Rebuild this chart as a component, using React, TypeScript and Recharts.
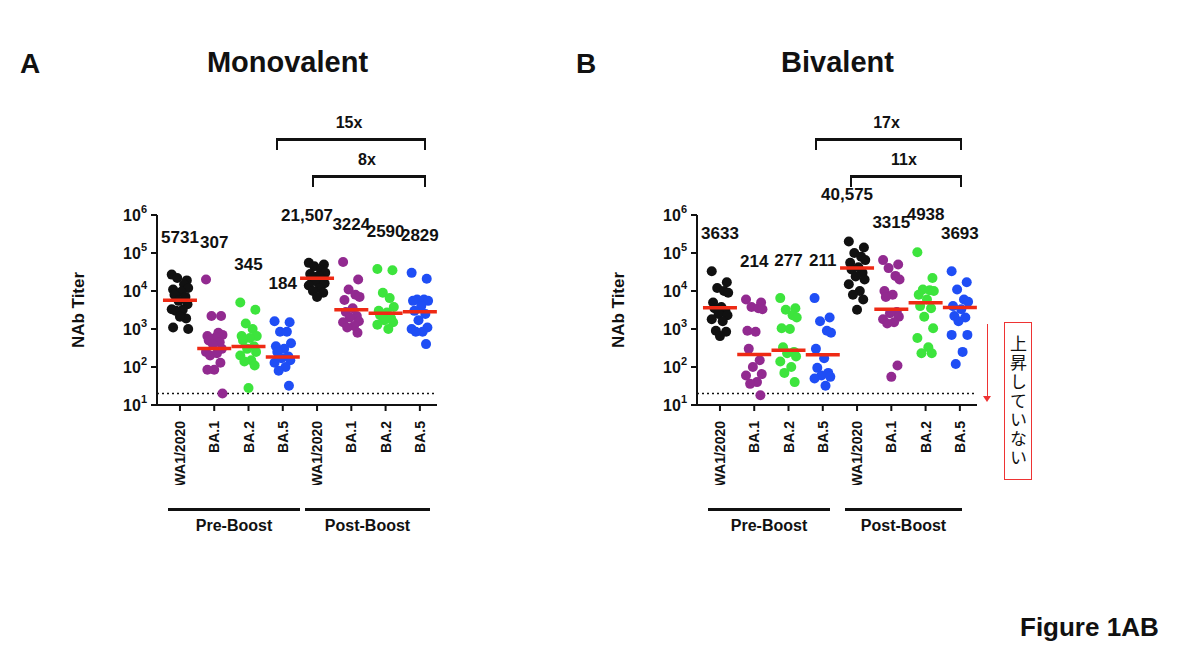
import { ScatterChart, Scatter, XAxis, YAxis, ReferenceLine } from "recharts"

const categories = ["WA1/2020", "BA.1", "BA.2", "BA.5", "WA1/2020", "BA.1", "BA.2", "BA.5"]
const colors = ["#111111", "#922a90", "#3de43d", "#1f4ef5", "#111111", "#922a90", "#3de43d", "#1f4ef5"]
const yTicks = [10, 100, 1000, 10000, 100000, 1000000]

const monoGmt = [5731, 307, 345, 184, 21507, 3224, 2590, 2829]
const monoGmtLabels = ["5731", "307", "345", "184", "21,507", "3224", "2590", "2829"]
const monoValues = [
  [27000, 19000, 22000, 15000, 12000, 11000, 9500, 8000, 7000, 5500, 4500, 3300, 3200, 3000, 1900, 2100, 1100, 1000],
  [20000, 2200, 2200, 800, 700, 650, 600, 500, 450, 400, 300, 250, 230, 200, 130, 85, 85, 20],
  [5000, 3200, 1400, 1000, 650, 650, 580, 500, 350, 300, 250, 200, 150, 140, 110, 28],
  [1600, 1500, 850, 850, 420, 350, 300, 250, 190, 170, 150, 130, 100, 80, 32],
  [55000, 50000, 45000, 35000, 30000, 28000, 25000, 22000, 20000, 18000, 16000, 14000, 12000, 10000, 9000, 7000],
  [58000, 20000, 11000, 8000, 7000, 5800, 3500, 2800, 2200, 2000, 1600, 1500, 1200, 1100, 800],
  [38000, 35000, 9000, 6500, 3800, 3000, 2700, 2300, 1900, 1700, 1500, 1300, 1000],
  [30000, 21000, 6000, 6000, 5500, 5500, 4000, 3000, 2500, 1700, 1100, 1000, 850, 850, 400],
]

const biGmt = [3633, 214, 277, 211, 40575, 3315, 4938, 3693]
const biGmtLabels = ["3633", "214", "277", "211", "40,575", "3315", "4938", "3693"]
const biValues = [
  [33000, 17000, 12000, 10000, 9000, 5000, 3800, 3500, 3000, 2500, 2300, 1800, 1600, 900, 850, 650],
  [6000, 5000, 3800, 3500, 3300, 900, 850, 300, 150, 100, 65, 60, 40, 36, 18],
  [6500, 3500, 3200, 2300, 2000, 1050, 1000, 330, 250, 230, 190, 140, 100, 70, 40],
  [6500, 2000, 1600, 900, 800, 300, 170, 95, 70, 60, 55, 50, 32],
  [200000, 140000, 100000, 80000, 65000, 55000, 42000, 37000, 30000, 24000, 20000, 15000, 10000, 8000, 6000, 3200],
  [65000, 50000, 40000, 25000, 20000, 10000, 8000, 7000, 2800, 2600, 2100, 1800, 1500, 1400, 110, 55],
  [105000, 22000, 11000, 10500, 10000, 8000, 6000, 4000, 3500, 2100, 1050, 580, 330, 230, 230],
  [33000, 17000, 11000, 6000, 5200, 4000, 3300, 2200, 2000, 1600, 700, 700, 250, 120],
]

const jitter = [-0.24, 0.2, -0.08, 0.12, 0.24, -0.2, 0.04, -0.16, 0.16, -0.04, 0.22, -0.24, 0.08, -0.12, 0.18, 0, -0.2, 0.24]

const FONT = "'Liberation Sans', Arial, sans-serif"

const Dot = (props: any) => <circle cx={props.cx} cy={props.cy} r={5} fill={props.payload.color} />
const Gmt = (props: any) => (
  <line x1={props.cx - 17} x2={props.cx + 17} y1={props.cy} y2={props.cy} stroke="#ee2a14" strokeWidth={3.5} />
)
// label sits a fixed distance above the highest dot of its group; long labels nudged up-left
const Lbl = (props: any) => {
  const long = props.payload.label.length > 5
  return (
    <text x={props.cx - (long ? 10 : 0)} y={props.cy - (long ? 42 : 32)} textAnchor="middle" fontSize={17} fontWeight="bold" fill="#111">
      {props.payload.label}
    </text>
  )
}
const XTick = (props: any) => (
  <text x={props.x} y={props.y + 8} transform={`rotate(-90 ${props.x} ${props.y + 8})`} textAnchor="end"
    dominantBaseline="central" fontSize={14} fontWeight="bold" fill="#111">
    {categories[props.payload.value]}
  </text>
)
const YTick = (props: any) => {
  const exp = Math.round(Math.log10(props.payload.value))
  return (
    <text x={props.x - 2} y={props.y + 6} textAnchor="end" fontSize={16} fontWeight="bold" fill="#111">
      10<tspan dy={-8} fontSize={11}>{exp}</tspan>
    </text>
  )
}

function Panel({ values, gmt, labels, left }: { values: number[][]; gmt: number[]; labels: string[]; left: number }) {
  const dots = values.flatMap((g, i) => g.map((v, j) => ({ x: i + jitter[j % jitter.length], y: v, color: colors[i] })))
  const lines = gmt.map((v, i) => ({ x: i, y: v }))
  const lbls = values.map((g, i) => ({ x: i, y: Math.max(...g), label: labels[i] }))
  return (
    <div style={{ position: "absolute", left, top: 125 }}>
      <ScatterChart width={382} height={360} margin={{ top: 90, right: 5, left: 40, bottom: 0 }} style={{ fontFamily: FONT, overflow: "visible" }}>
        <XAxis type="number" dataKey="x" domain={[-0.67, 7.5]} ticks={[0, 1, 2, 3, 4, 5, 6, 7]} tick={<XTick />}
          height={80} axisLine={{ stroke: "#111", strokeWidth: 2 }} tickLine={{ stroke: "#111", strokeWidth: 2 }} />
        <YAxis type="number" dataKey="y" scale="log" domain={[10, 1000000]} ticks={yTicks} tick={<YTick />}
          width={57} axisLine={{ stroke: "#111", strokeWidth: 2 }} tickLine={{ stroke: "#111", strokeWidth: 2 }}
          label={{ value: "NAb Titer", angle: -90, position: "insideLeft", offset: -22, style: { fontSize: 17, fontWeight: "bold", fill: "#111", textAnchor: "middle" } }} />
        <ReferenceLine y={20} stroke="#111" strokeDasharray="2 3" strokeWidth={1.5} />
        <Scatter data={dots} shape={<Dot />} isAnimationActive={false} />
        <Scatter data={lines} shape={<Gmt />} isAnimationActive={false} />
        <Scatter data={lbls} shape={<Lbl />} isAnimationActive={false} />
      </ScatterChart>
    </div>
  )
}

const abs = (s: React.CSSProperties): React.CSSProperties => ({ position: "absolute", ...s })

function Bracket({ x1, x2, y, text }: { x1: number; x2: number; y: number; text: string }) {
  return (
    <>
      <div style={abs({ left: x1, top: y, width: x2 - x1, height: 9, borderTop: "3px solid #111", borderLeft: "2px solid #111", borderRight: "2px solid #111" })} />
      <div style={abs({ left: x1, top: y - 24, width: x2 - x1, textAlign: "center", fontSize: 16, fontWeight: "bold" })}>{text}</div>
    </>
  )
}
function Group({ x1, x2, text }: { x1: number; x2: number; text: string }) {
  return (
    <>
      <div style={abs({ left: x1, top: 508, width: x2 - x1, borderTop: "3px solid #111" })} />
      <div style={abs({ left: x1, top: 517, width: x2 - x1, textAlign: "center", fontSize: 16, fontWeight: "bold" })}>{text}</div>
    </>
  )
}

export default function App() {
  return (
    <div style={{ position: "fixed", left: 0, top: 0, width: 1200, height: 656, background: "#fff", fontFamily: FONT, color: "#111" }}>
      <div style={abs({ left: 20, top: 48, fontSize: 28, fontWeight: "bold" })}>A</div>
      <div style={abs({ left: 150, top: 46, width: 275, textAlign: "center", fontSize: 29, fontWeight: "bold" })}>Monovalent</div>
      <div style={abs({ left: 576, top: 48, fontSize: 28, fontWeight: "bold" })}>B</div>
      <div style={abs({ left: 700, top: 46, width: 275, textAlign: "center", fontSize: 29, fontWeight: "bold" })}>Bivalent</div>
      <Panel values={monoValues} gmt={monoGmt} labels={monoGmtLabels} left={60} />
      <Panel values={biValues} gmt={biGmt} labels={biGmtLabels} left={600} />
      <Bracket x1={276} x2={422} y={138} text="15x" />
      <Bracket x1={312} x2={422} y={175} text="8x" />
      <Bracket x1={815} x2={958} y={138} text="17x" />
      <Bracket x1={850} x2={958} y={175} text="11x" />
      <Group x1={168} x2={300} text="Pre-Boost" />
      <Group x1={305} x2={430} text="Post-Boost" />
      <Group x1={708} x2={830} text="Pre-Boost" />
      <Group x1={845} x2={962} text="Post-Boost" />
      <div style={abs({ left: 987, top: 324, width: 1, height: 76, background: "#e33" })} />
      <div style={abs({ left: 983, top: 396, width: 0, height: 0, borderLeft: "4px solid transparent", borderRight: "4px solid transparent", borderTop: "6px solid #e33" })} />
      <div style={abs({ left: 1004, top: 322, width: 26, height: 156, border: "1px solid #e33", writingMode: "vertical-rl", fontFamily: "'Noto Sans CJK JP'", fontSize: 17, lineHeight: "26px", textAlign: "center", letterSpacing: 2 })}>上昇していない</div>
      <div style={abs({ left: 1020, top: 612, fontSize: 26, fontWeight: "bold" })}>Figure 1AB</div>
    </div>
  )
}
